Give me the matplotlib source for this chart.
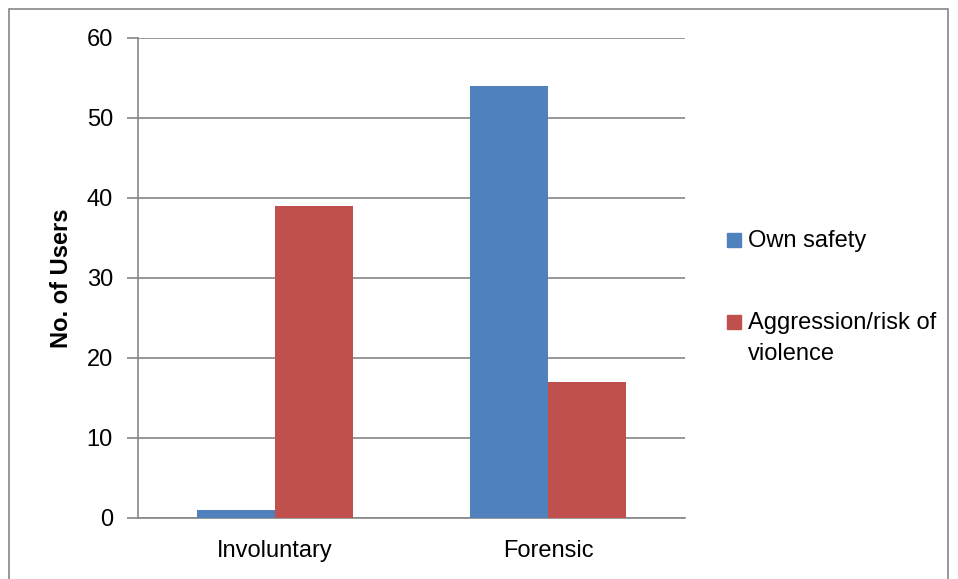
import matplotlib
matplotlib.use("Agg")
import matplotlib.pyplot as plt
import numpy as np
from matplotlib.patches import Rectangle

categories = ["Involuntary", "Forensic"]
series_names = ["Own safety", "Aggression/risk of\nviolence"]
own_safety = [1, 54]
aggression = [39, 17]
colors = ["#4F81BD", "#C0504D"]
yticks = [0, 10, 20, 30, 40, 50, 60]

plt.rcParams["font.family"] = ["Liberation Sans", "DejaVu Sans"]

W, H = 958, 579
fig = plt.figure(figsize=(W / 100, H / 100), dpi=100)
ax = fig.add_axes([138 / W, 1 - 518 / H, (685 - 138) / W, (518 - 38) / H])

x = np.arange(len(categories))
bw = 0.285
values = [own_safety, aggression]
for i, (vals, c) in enumerate(zip(values, colors)):
    ax.bar(x + (i - 0.5) * bw, vals, width=bw, color=c, zorder=3)

ax.set_xlim(-0.5, len(categories) - 0.5)
ax.set_ylim(0, 60)
ax.set_yticks(yticks)
ax.set_xticks(x)
ax.set_xticklabels(categories)
ax.yaxis.grid(True, color="#868686", linewidth=1.2, zorder=0)
for side in ["top", "right"]:
    ax.spines[side].set_visible(False)
for side in ["left", "bottom"]:
    ax.spines[side].set_color("#868686")
    ax.spines[side].set_linewidth(1.2)
ax.tick_params(axis="y", length=8, width=1.2, color="#868686", labelsize=17, pad=10)
ax.tick_params(axis="x", length=0, labelsize=17, pad=16)
ax.set_ylabel("No. of Users", fontsize=17, fontweight="bold", labelpad=10)

# legend: colored squares with labels to the right of the plot
leg_y = [240, 322]
for name, c, ly in zip(series_names, colors, leg_y):
    fig.patches.append(Rectangle((727 / W, 1 - (ly + 7) / H), 14 / W, 14 / H,
                                 transform=fig.transFigure, color=c))
    fig.text(748 / W, 1 - (ly - 10) / H, name, fontsize=17, va="top",
             ha="left", linespacing=1.55)

# outer chart border
fig.patches.append(Rectangle((9 / W, -0.01), (948 - 9) / W, 1 - 9 / H + 0.01,
                             transform=fig.transFigure, fill=False,
                             edgecolor="#868686", linewidth=1.2))

fig.savefig("out.png", dpi=100)
